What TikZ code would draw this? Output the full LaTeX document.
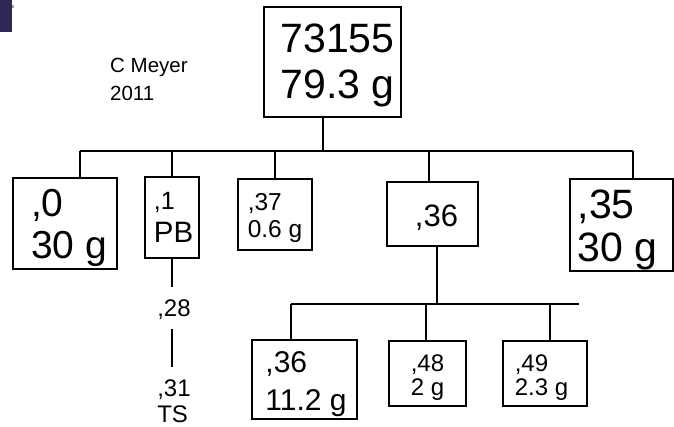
\documentclass[tikz,border=0pt]{standalone}
\usepackage{fontspec}
\setmainfont{Liberation Sans}
\usetikzlibrary{positioning}
\definecolor{slide}{RGB}{46,40,82}

\tikzset{
  sample/.style={draw,line width=1.2pt,inner sep=0pt},
  txt/.style={align=left,inner sep=0pt},
  link/.style={line width=1.2pt},
}

\begin{document}
\begin{tikzpicture}[x=1pt,y=-1pt]
\useasboundingbox (0,0) rectangle (674,427);
\fill[slide] (0,0) rectangle (12,32);
\fill[gray!70] (12,5) rectangle (14,8);

\node[sample,minimum width=137pt,minimum height=110pt,label={[txt,font=\fontsize{41}{46}\selectfont,xshift=5pt,yshift=-3pt]center:{73155\\79.3 g}}] (top) at (332.5,62) {};
\node[txt,anchor=west,font=\fontsize{20.5}{28}\selectfont] (author) at (110,79.5) {C Meyer\\2011};

\node[sample,minimum width=104pt,minimum height=91pt,label={[txt,font=\fontsize{39}{42}\selectfont,xshift=4pt,yshift=-4pt]center:{,0\\30 g}}] (b0) at (65,223.5) {};
\node[sample,minimum width=54pt,minimum height=81pt,label={[txt,font=\fontsize{29.5}{33}\selectfont,xshift=1.5pt]center:{{\fontsize{25}{25}\selectfont ,1}\\PB}}] (b1) at (172,217.5) {};
\node[sample,minimum width=74pt,minimum height=71pt,label={[txt,font=\fontsize{24.5}{27}\selectfont,yshift=-3pt]center:{,37\\0.6 g}}] (b37) at (275,214.5) {};
\node[sample,minimum width=91pt,minimum height=64pt,label={[txt,font=\fontsize{31}{31}\selectfont,xshift=4pt,yshift=-4pt]center:{,36}}] (b36) at (432.5,214) {};
\node[sample,minimum width=103pt,minimum height=92pt,label={[txt,font=\fontsize{41}{43}\selectfont,xshift=-4pt,yshift=-5pt]center:{,35\\30 g}}] (b35) at (621.5,225) {};

\node[txt,font=\fontsize{24}{27}\selectfont] (l28) at (174,309.5) {,28};
\node[txt,font=\fontsize{24}{26}\selectfont] (l31) at (174,401) {,31\\TS};

\node[sample,minimum width=105pt,minimum height=79pt,label={[txt,font=\fontsize{30}{38}\selectfont,xshift=1.5pt,yshift=-4.5pt]center:{,36\\11.2 g}}] (c36) at (304.5,379.5) {};
\node[sample,minimum width=77pt,minimum height=65pt,label={[txt,font=\fontsize{24}{24}\selectfont,yshift=-4.5pt]center:{,48\\2 g}}] (c48) at (427.5,373.5) {};
\node[sample,minimum width=84pt,minimum height=65pt,label={[txt,font=\fontsize{24}{24}\selectfont,xshift=-3.5pt,yshift=-4.5pt]center:{,49\\2.3 g}}] (c49) at (545,373.5) {};

% upper tree
\coordinate (bus) at (323,151);
\coordinate (d0) at (80,151);
\coordinate (d1) at (172,151);
\coordinate (d37) at (275,151);
\coordinate (d36) at (429,151);
\coordinate (d35) at (633,151);
\draw[link] (top.south -| bus) -- (bus);
\draw[link] (d0) -- (d35);
\draw[link] (d0) -- (d0 |- b0.north);
\draw[link] (d1) -- (d1 |- b1.north);
\draw[link] (d37) -- (d37 |- b37.north);
\draw[link] (d36) -- (d36 |- b36.north);
\draw[link] (d35) -- (d35 |- b35.north);

\draw[link] (b1.south) -- ([yshift=12pt]b1.south |- l28.north);
\draw[link] ([yshift=-9pt]b1.south |- l28.south) -- ([yshift=12pt]b1.south |- l31.north);

% lower tree
\coordinate (lbus) at (437,304);
\coordinate (e0) at (291,304);
\coordinate (e1) at (426,304);
\coordinate (e2) at (550,304);
\coordinate (lend) at (579,304);
\draw[link] (b36.south -| lbus) -- (lbus);
\draw[link] (e0) -- (lend);
\draw[link] (e0) -- (e0 |- c36.north);
\draw[link] (e1) -- (e1 |- c48.north);
\draw[link] (e2) -- (e2 |- c49.north);

\end{tikzpicture}
\end{document}
